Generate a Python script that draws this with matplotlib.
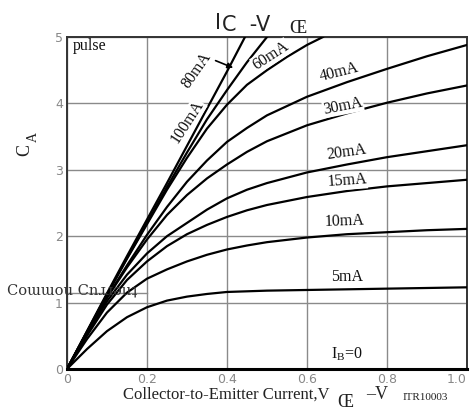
import numpy as np
import matplotlib
matplotlib.use("Agg")
import matplotlib.pyplot as plt

# Ic - Vce curves
vce = [0, 0.05, 0.1, 0.15, 0.2, 0.25, 0.3, 0.35, 0.4, 0.45, 0.5, 0.6, 0.7, 0.8, 0.9, 1.0]
ic_5 = [0, 0.3, 0.57, 0.78, 0.93, 1.03, 1.09, 1.13, 1.16, 1.17, 1.18, 1.19, 1.2, 1.21, 1.22, 1.23]
ic_10 = [0, 0.45, 0.85, 1.15, 1.36, 1.5, 1.62, 1.72, 1.8, 1.86, 1.91, 1.98, 2.03, 2.06, 2.09, 2.11]
ic_15 = [0, 0.5, 0.97, 1.34, 1.62, 1.85, 2.03, 2.17, 2.29, 2.39, 2.47, 2.59, 2.68, 2.75, 2.8, 2.85]
ic_20 = [0, 0.53, 1.02, 1.42, 1.74, 2.0, 2.2, 2.4, 2.57, 2.7, 2.8, 2.96, 3.08, 3.19, 3.28, 3.37]
ic_30 = [0, 0.55, 1.07, 1.53, 1.95, 2.32, 2.62, 2.87, 3.08, 3.27, 3.43, 3.67, 3.85, 4.01, 4.15, 4.27]
ic_40 = [0, 0.55, 1.08, 1.56, 2.02, 2.44, 2.82, 3.14, 3.42, 3.63, 3.82, 4.1, 4.32, 4.52, 4.71, 4.88]

vce_60 = [0, 0.05, 0.1, 0.15, 0.2, 0.25, 0.3, 0.35, 0.4, 0.45, 0.5, 0.55, 0.6, 0.64]
ic_60 = [0, 0.56, 1.12, 1.66, 2.18, 2.7, 3.18, 3.62, 3.98, 4.28, 4.5, 4.7, 4.88, 5.0]
vce_80 = [0, 0.05, 0.1, 0.15, 0.2, 0.25, 0.3, 0.35, 0.4, 0.45, 0.5]
ic_80 = [0, 0.56, 1.12, 1.67, 2.2, 2.74, 3.26, 3.76, 4.2, 4.62, 5.0]
vce_100 = [0, 0.05, 0.1, 0.15, 0.2, 0.25, 0.3, 0.35, 0.4, 0.445]
ic_100 = [0, 0.57, 1.14, 1.7, 2.25, 2.8, 3.36, 3.92, 4.48, 5.0]

curves = [(vce, ic_5), (vce, ic_10), (vce, ic_15), (vce, ic_20), (vce, ic_30),
          (vce, ic_40), (vce_60, ic_60), (vce_80, ic_80), (vce_100, ic_100)]

xticks = [0, 0.2, 0.4, 0.6, 0.8, 1.0]
xticklabels = ["0", "0.2", "0.4", "0.6", "0.8", "1.0"]
yticks = [0, 1, 2, 3, 4, 5]

serif = ["Liberation Serif", "DejaVu Serif"]

fig = plt.figure(figsize=(4.73, 4.11), dpi=100)
ax = fig.add_axes([0.1416, 0.1022, 0.8457, 0.8078])

for x, y in curves:
    ax.plot(x, y, color="black", lw=1.6, zorder=3, solid_joinstyle="round")

ax.set_xlim(0, 1.0)
ax.set_ylim(0, 5)
ax.set_xticks(xticks)
ax.set_xticklabels(xticklabels)
ax.set_yticks(yticks)
ax.tick_params(length=0, labelsize=9, labelcolor="#888888", pad=3)
ax.get_xticklabels()[-1].set_horizontalalignment("right")
ax.grid(True, color="#8a8a8a", lw=1.0, zorder=1)
for s in ax.spines.values():
    s.set_linewidth(1.4)
    s.set_color("#333333")
ax.spines["bottom"].set_linewidth(2.2)
ax.spines["bottom"].set_color("black")

# stray gray line at left
ax.plot([0, 0.2], [1.14, 1.14], color="#8a8a8a", lw=1.0, zorder=1)

box = dict(facecolor="white", edgecolor="none", pad=0.5)
lab = dict(family=serif, fontsize=11.5, color="#111111", zorder=4, ha="center", va="center", bbox=box)
ax.text(0.015, 4.86, "pulse", family=serif, fontsize=11.5, ha="left", va="center", color="#111111")
ax.text(0.3, 3.72, "100mA", rotation=57, **lab)
ax.text(0.325, 4.5, "80mA", rotation=55, **lab)
ax.text(0.51, 4.72, "60mA", rotation=33, **lab)
ax.text(0.68, 4.47, "40mA", rotation=14, **lab)
ax.text(0.69, 3.96, "30mA", rotation=11, **lab)
ax.text(0.70, 3.27, "20mA", rotation=8, **lab)
ax.text(0.70, 2.83, "15mA", rotation=4, **lab)
ax.text(0.695, 2.22, "10mA", rotation=2, **lab)
ax.text(0.70, 1.39, "5mA", **lab)
ax.text(0.70, 0.22, "I$_\\mathregular{B}$=0", **lab)
ax.annotate("", xy=(0.422, 4.52), xytext=(0.365, 4.66),
            arrowprops=dict(arrowstyle="-|>", color="black", lw=1.2, mutation_scale=8), zorder=4)

# title
fig.text(0.455, 0.945, "I", fontsize=15, color="#222222", ha="left", va="center")
fig.text(0.47, 0.94, "C  -V", fontsize=15, color="#222222", ha="left", va="center")
fig.text(0.612, 0.93, "Œ", fontsize=14, color="#222222", ha="left", va="center", family=serif)

# axis labels
fig.text(0.053, 0.635, "C", fontsize=13, rotation=90, color="#222222", ha="center", va="center", family=serif)
fig.text(0.071, 0.667, "A", fontsize=10, rotation=90, color="#222222", ha="center", va="center", family=serif)
fig.text(0.015, 0.294, "Coɯɯou Cnɹɹǝuʇ", fontsize=10.5, color="#333333", ha="left", va="center",
         family=["DejaVu Serif"])

fig.text(0.478, 0.039, "Collector-to-Emitter Current,V", fontsize=12, family=serif, color="#222222",
         ha="center", va="center")
fig.text(0.729, 0.02, "Œ", fontsize=13, family=serif, color="#222222", ha="center", va="center")
fig.text(0.797, 0.039, "–V", fontsize=13, family=serif, color="#222222", ha="center", va="center")
fig.text(0.9, 0.034, "ITR10003", fontsize=8, family=serif, color="#222222", ha="center", va="center")

fig.savefig("out.png", dpi=100)
